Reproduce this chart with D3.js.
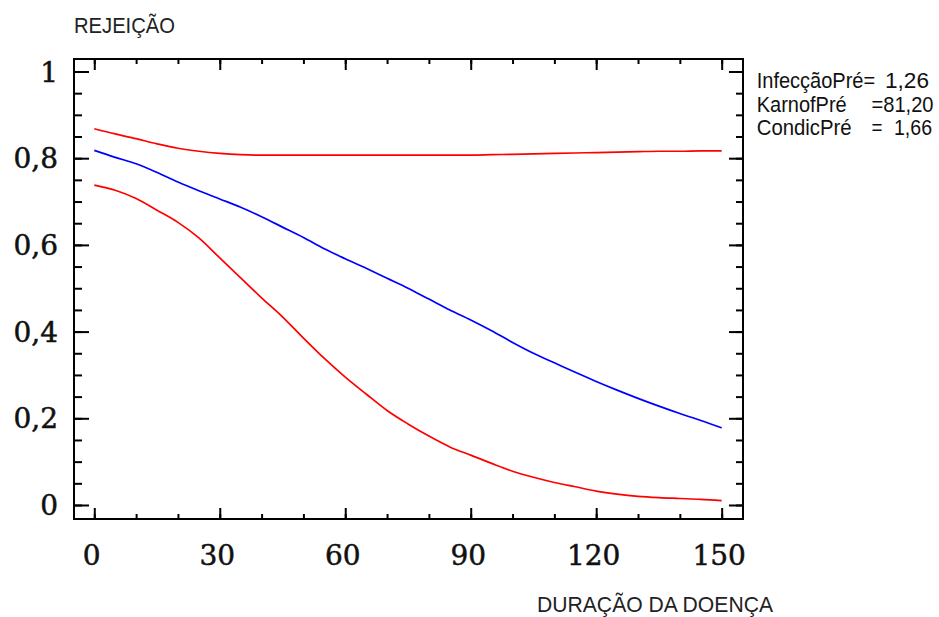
<!DOCTYPE html>
<html>
<head>
<meta charset="utf-8">
<script src="https://cdn.jsdelivr.net/npm/d3@7"></script>
<style>
  html, body { margin: 0; padding: 0; background: #fff; }
  svg { display: block; }
</style>
</head>
<body>
<svg id="chart" width="939" height="617"></svg>
<script>
// Disease duration (x) sampled every 5 units
const duracao = [0, 5, 10, 15, 20, 25, 30, 35, 40, 45, 50, 55, 60, 65, 70, 75,
  80, 85, 90, 95, 100, 105, 110, 115, 120, 125, 130, 135, 140, 145, 150];

// Predicted rejection probability (blue) and its upper/lower bounds (red)
const rejeicao = [0.818, 0.802, 0.787, 0.767, 0.745, 0.725, 0.706, 0.687, 0.665, 0.641,
  0.617, 0.591, 0.568, 0.546, 0.523, 0.500, 0.475, 0.450, 0.427, 0.402,
  0.375, 0.350, 0.328, 0.306, 0.285, 0.265, 0.246, 0.228, 0.211, 0.195, 0.178];
const limiteSuperior = [0.868, 0.856, 0.845, 0.833, 0.823, 0.816, 0.811, 0.808, 0.807, 0.807,
  0.807, 0.807, 0.807, 0.807, 0.807, 0.807, 0.807, 0.807, 0.807, 0.808,
  0.809, 0.810, 0.811, 0.812, 0.813, 0.814, 0.815, 0.816, 0.816, 0.817, 0.817];
const limiteInferior = [0.738, 0.726, 0.707, 0.680, 0.652, 0.616, 0.570, 0.524, 0.478, 0.434,
  0.385, 0.338, 0.295, 0.256, 0.218, 0.187, 0.159, 0.134, 0.115, 0.096,
  0.078, 0.064, 0.052, 0.042, 0.032, 0.025, 0.020, 0.017, 0.015, 0.013, 0.010];

// Axis ticks
const xMajor = [0, 30, 60, 90, 120, 150];
const xMinor = [0, 10, 20, 30, 40, 50, 60, 70, 80, 90, 100, 110, 120, 130, 140, 150];
const yMajor = [0, 0.2, 0.4, 0.6, 0.8, 1];
const yMinor = d3.range(0, 21).map(i => +(i * 0.05).toFixed(2));

// Fixed covariate values shown at the right
const legendaNomes = ["InfecçãoPré=", "KarnofPré", "CondicPré"];
const legendaSinais = ["", "", "="];
const legendaValores = ["1,26", "=81,20", "1,66"];

const svg = d3.select("#chart");
const frame = { left: 74, right: 743, top: 59, bottom: 519 };

const x = d3.scaleLinear().domain([-4.85, 155.1]).range([frame.left, frame.right]);
const y = d3.scaleLinear().domain([-0.0323, 1.0288]).range([frame.bottom, frame.top]);

const fmt = v => String(v).replace(".", ",");

// Curves
const line = d3.line()
  .x((d, i) => x(duracao[i]))
  .y(d => y(d))
  .curve(d3.curveMonotoneX);

const series = [
  { values: limiteSuperior, color: "#ff0000" },
  { values: rejeicao, color: "#0000ff" },
  { values: limiteInferior, color: "#ff0000" }
];
svg.append("g").selectAll("path")
  .data(series)
  .join("path")
  .attr("d", d => line(d.values))
  .attr("fill", "none")
  .attr("stroke", d => d.color)
  .attr("stroke-width", 1.7);

// Tick marks on all four sides, pointing inward
function ticks(axisFn, pos, values, len) {
  const g = svg.append("g")
    .attr("transform", pos)
    .call(axisFn.tickValues(values).tickSize(len).tickFormat(""));
  g.select(".domain").remove();
  g.selectAll("line").attr("stroke", "#000").attr("stroke-width", 2);
}
ticks(d3.axisBottom(x), `translate(0,${frame.bottom})`, xMinor, -5);
ticks(d3.axisBottom(x), `translate(0,${frame.bottom})`, xMajor, -11);
ticks(d3.axisTop(x), `translate(0,${frame.top})`, xMinor, -5);
ticks(d3.axisTop(x), `translate(0,${frame.top})`, xMajor, -11);
ticks(d3.axisLeft(y), `translate(${frame.left},0)`, yMinor, -8);
ticks(d3.axisLeft(y), `translate(${frame.left},0)`, yMajor, -15);
ticks(d3.axisRight(y), `translate(${frame.right},0)`, yMinor, -7);
ticks(d3.axisRight(y), `translate(${frame.right},0)`, yMajor, -14);

// Frame
svg.append("rect")
  .attr("x", frame.left).attr("y", frame.top)
  .attr("width", frame.right - frame.left)
  .attr("height", frame.bottom - frame.top)
  .attr("fill", "none").attr("stroke", "#000").attr("stroke-width", 2);

// Tick labels
const serif = "'DejaVu Serif', 'Liberation Serif', serif";
svg.append("g").selectAll("text")
  .data(yMajor)
  .join("text")
  .attr("x", 58)
  .attr("y", d => y(d))
  .attr("dy", "0.36em")
  .attr("text-anchor", "end")
  .attr("font-family", serif)
  .attr("font-size", 28)
  .attr("fill", "#111")
  .attr("stroke", "#111").attr("stroke-width", 0.5)
  .text(fmt);

svg.append("g").selectAll("text")
  .data(xMajor)
  .join("text")
  .attr("x", d => x(d) - 2.5)
  .attr("y", 565)
  .attr("text-anchor", "middle")
  .attr("font-family", serif)
  .attr("font-size", 28)
  .attr("fill", "#111")
  .attr("stroke", "#111").attr("stroke-width", 0.5)
  .text(fmt);

// Axis titles
const sans = "'Liberation Sans', Arial, sans-serif";
svg.append("text")
  .attr("x", 74).attr("y", 33)
  .attr("font-family", sans).attr("font-size", 22)
  .attr("textLength", 101).attr("lengthAdjust", "spacingAndGlyphs")
  .attr("fill", "#222")
  .text("REJEIÇÃO");

svg.append("text")
  .attr("x", 537).attr("y", 611.5)
  .attr("font-family", sans).attr("font-size", 22)
  .attr("textLength", 236).attr("lengthAdjust", "spacingAndGlyphs")
  .attr("fill", "#222")
  .text("DURAÇÃO DA DOENÇA");

// Covariate legend: name, optional "=" sign, value on each row
const leg = svg.append("g")
  .attr("font-family", sans).attr("font-size", 22).attr("fill", "#111");
const rows = [
  { base: 87.7, nw: 118.5, sx: null, vx: 885, vw: 44 },
  { base: 111.5, nw: 90, sx: null, vx: 871.5, vw: 62 },
  { base: 135.2, nw: 95, sx: 871.5, vx: 894, vw: 38 }
];
legendaNomes.forEach((nome, i) => {
  const r = rows[i];
  leg.append("text").attr("x", 756.7).attr("y", r.base)
    .attr("textLength", r.nw).attr("lengthAdjust", "spacingAndGlyphs")
    .text(nome);
  if (legendaSinais[i]) {
    leg.append("text").attr("x", r.sx).attr("y", r.base)
      .attr("textLength", 11).attr("lengthAdjust", "spacingAndGlyphs")
      .text(legendaSinais[i]);
  }
  leg.append("text").attr("x", r.vx).attr("y", r.base)
    .attr("textLength", r.vw).attr("lengthAdjust", "spacingAndGlyphs")
    .text(legendaValores[i]);
});
</script>
</body>
</html>
